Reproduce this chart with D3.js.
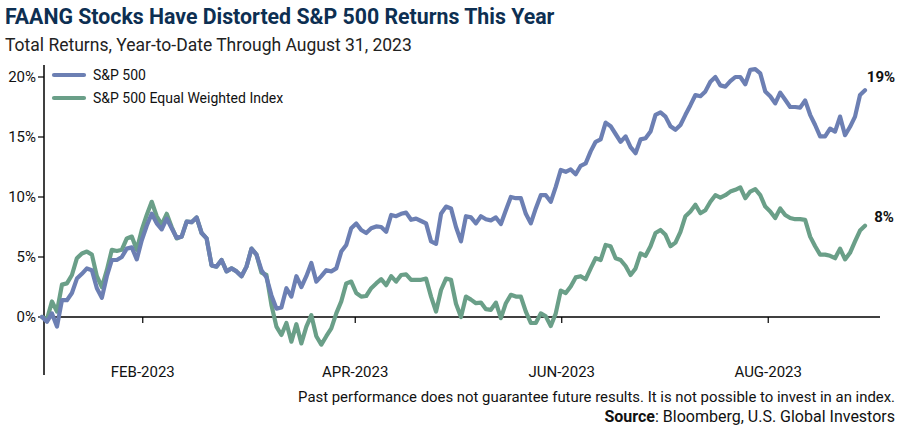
<!DOCTYPE html>
<html><head><meta charset="utf-8">
<script src="https://cdn.jsdelivr.net/npm/d3@7"></script>
<style>
body{margin:0;background:#fff;}
svg{display:block;font-family:Roboto, "Open Sans", sans-serif;}
</style></head><body>
<svg id="c" width="900" height="428"></svg>
<script>
const seriesNames = ["S&P 500", "S&P 500 Equal Weighted Index"];
const sp500 = [0,-0.4,0.3,-0.8,1.4,1.4,2.0,3.2,3.6,4.05,3.9,2.4,1.6,3.4,4.75,4.75,5.0,5.7,5.8,4.8,
6.4,7.6,8.6,7.8,7.3,8.2,7.4,6.6,6.7,7.95,7.9,8.3,7.0,6.55,4.3,4.2,4.75,3.8,4.05,3.8,
3.4,4.2,5.7,5.2,3.9,3.3,1.8,0.7,0.8,2.4,1.7,3.4,2.5,3.4,4.5,2.95,3.4,3.9,3.8,4.05,
5.45,6.0,7.4,7.8,7.25,7.0,7.4,7.55,7.5,7.1,8.5,8.4,8.6,8.7,8.1,8.2,8.0,7.8,6.3,6.1,
8.6,9.2,9.05,7.5,6.3,8.4,8.3,7.8,8.4,8.15,8.05,8.3,7.75,8.9,10.0,9.9,9.9,8.6,7.8,9.05,
10.15,10.15,9.6,10.85,12.25,12.1,12.3,11.9,12.6,12.8,13.8,14.6,14.8,16.2,15.9,15.25,14.6,15.05,14.15,13.65,
14.8,14.9,15.45,16.85,17.05,16.7,15.9,15.6,16.0,16.85,17.65,18.5,18.4,18.8,19.6,20.0,19.3,19.2,19.65,20.0,
20.0,19.4,20.6,20.65,20.3,18.8,18.4,17.8,18.7,18.1,17.5,17.5,17.45,18.05,16.85,16.0,15.05,15.05,15.7,15.45,
16.7,15.15,15.85,16.7,18.5,18.9];
const spEqual = [0,-0.2,1.3,0.45,2.7,2.8,3.5,4.9,5.3,5.45,5.2,3.4,2.5,3.9,5.6,5.5,5.6,6.55,6.7,5.6,
7.25,8.5,9.6,8.4,7.7,8.6,7.5,6.55,6.7,7.95,7.9,8.3,7.0,6.55,4.3,4.2,4.75,3.8,4.05,3.8,
3.4,4.2,5.7,5.2,3.7,3.5,1.0,-0.8,-1.5,-0.5,-2.05,-0.6,-2.2,-0.8,0.15,-1.6,-2.3,-1.6,-0.95,0.3,
1.3,2.8,2.95,2.0,1.7,1.75,2.4,2.8,3.15,2.65,3.4,2.95,3.5,3.55,3.1,3.1,3.1,3.2,1.7,0.45,
2.25,3.2,3.1,1.1,0.0,1.7,1.45,1.15,1.2,0.65,0.6,1.2,-0.1,1.15,1.85,1.7,1.7,0.45,-0.5,-0.5,
0.3,0.05,-0.75,0.3,2.2,2.0,2.55,3.3,3.4,3.15,4.05,4.9,4.75,6.0,5.9,4.9,4.75,4.25,3.5,4.05,
5.3,5.1,5.9,7.0,7.25,6.85,5.9,6.2,7.1,8.4,8.8,9.35,8.65,8.9,9.6,10.15,9.95,10.15,10.45,10.6,
10.8,9.9,10.45,10.65,10.15,9.2,8.8,8.25,9.05,8.5,8.25,8.15,8.15,8.1,6.7,5.9,5.2,5.2,5.1,4.9,
5.7,4.8,5.35,6.3,7.2,7.6];
const tickLabels = ["FEB-2023","APR-2023","JUN-2023","AUG-2023"];
const tickIndex = [20.2, 62.8, 104.2, 145.6];
const yTicks = [0,5,10,15,20];
const endLabels = ["19%","8%"];
const colors = ["#6c7fb3","#6a9f88"];

const svg = d3.select("#c");
const x = d3.scaleLinear().domain([0, sp500.length-1]).range([42, 865]);
const y = d3.scaleLinear().domain([0, 20]).range([317, 77]);

// title
svg.append("text").attr("x",5).attr("y",24).attr("fill","#0d2f52")
  .attr("font-size",21.3).attr("font-weight",700).attr("font-family","Roboto, sans-serif")
  .text("FAANG Stocks Have Distorted S&P 500 Returns This Year");
svg.append("text").attr("x",5).attr("y",51).attr("fill","#222")
  .attr("font-size",17.5)
  .text("Total Returns, Year-to-Date Through August 31, 2023");

// y axis
svg.append("line").attr("x1",44).attr("x2",44).attr("y1",65).attr("y2",375).attr("stroke","#000").attr("stroke-width",1.5);
const yg = svg.append("g");
yTicks.forEach(t=>{
  yg.append("line").attr("x1",38).attr("x2",44).attr("y1",y(t)).attr("y2",y(t)).attr("stroke","#000").attr("stroke-width",1.2);
  yg.append("text").attr("x",36).attr("y",y(t)).attr("dy","0.35em").attr("text-anchor","end")
    .attr("font-size",15).attr("fill","#111").text(t+"%");
});

// x axis at 0
svg.append("line").attr("x1",44).attr("x2",880).attr("y1",y(0)).attr("y2",y(0)).attr("stroke","#000").attr("stroke-width",1.5);
tickIndex.forEach((t,i)=>{
  svg.append("line").attr("x1",x(t)).attr("x2",x(t)).attr("y1",y(0)).attr("y2",y(0)+6).attr("stroke","#000").attr("stroke-width",1.2);
  svg.append("text").attr("x",x(t)).attr("y",372).attr("dy","0.35em").attr("text-anchor","middle")
    .attr("font-size",15).attr("fill","#111").text(tickLabels[i]);
});

// lines
const line = d3.line().x((d,i)=>x(i)).y(d=>y(d));
[spEqual, sp500].forEach((s,k)=>{
  const c = k===0 ? colors[1] : colors[0];
  svg.append("path").datum(s).attr("d",line).attr("fill","none").attr("stroke",c)
    .attr("stroke-width",4.2).attr("stroke-linejoin","round").attr("stroke-linecap","round");
});

// end labels
svg.append("text").attr("x",881).attr("y",77).attr("dy","0.35em").attr("text-anchor","middle")
  .attr("font-size",15).attr("font-weight",700).attr("fill","#111").text(endLabels[0]);
svg.append("text").attr("x",884).attr("y",217).attr("dy","0.35em").attr("text-anchor","middle")
  .attr("font-size",15).attr("font-weight",700).attr("fill","#111").text(endLabels[1]);

// legend
seriesNames.forEach((n,i)=>{
  const yy = 75 + i*23;
  svg.append("line").attr("x1",54).attr("x2",84).attr("y1",yy).attr("y2",yy).attr("stroke",colors[i])
    .attr("stroke-width",4.2).attr("stroke-linecap","round");
  svg.append("text").attr("x",93).attr("y",yy).attr("dy","0.35em").attr("font-size",14).attr("fill","#111").text(n);
});

// footnotes
svg.append("text").attr("x",895).attr("y",397).attr("dy","0.35em").attr("text-anchor","end")
  .attr("font-size",14.9).attr("fill","#111")
  .text("Past performance does not guarantee future results. It is not possible to invest in an index.");
const src = svg.append("text").attr("x",895).attr("y",416).attr("dy","0.35em").attr("text-anchor","end")
  .attr("font-size",16).attr("fill","#111");
src.append("tspan").attr("font-weight",700).text("Source");
src.append("tspan").text(": Bloomberg, U.S. Global Investors");
</script>
</body></html>
